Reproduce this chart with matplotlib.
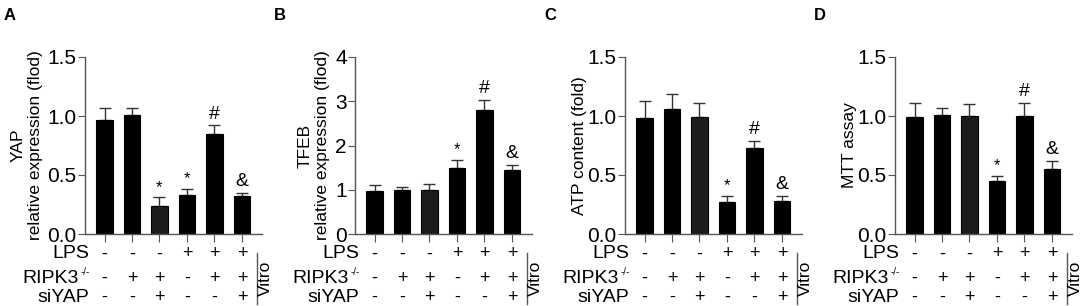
import matplotlib.pyplot as plt
import numpy as np

plt.rcParams['font.family'] = ['Liberation Sans', 'DejaVu Sans']

# values
yap = [0.97, 1.01, 0.24, 0.33, 0.85, 0.32]
yap_err = [0.10, 0.06, 0.07, 0.05, 0.07, 0.03]
tfeb = [0.98, 0.99, 1.00, 1.49, 2.81, 1.45]
tfeb_err = [0.13, 0.08, 0.12, 0.18, 0.22, 0.12]
atp = [0.98, 1.06, 0.99, 0.27, 0.73, 0.28]
atp_err = [0.15, 0.13, 0.12, 0.05, 0.06, 0.04]
mtt = [0.99, 1.01, 1.00, 0.45, 1.00, 0.55]
mtt_err = [0.12, 0.06, 0.10, 0.04, 0.11, 0.07]

sig_a = ['', '', '*', '*', '#', '&']
sig_b = ['', '', '', '*', '#', '&']
sig_c = ['', '', '', '*', '#', '&']
sig_d = ['', '', '', '*', '#', '&']

lps = ['-', '-', '-', '+', '+', '+']
ripk3 = ['-', '+', '+', '-', '+', '+']
siyap = ['-', '-', '+', '-', '-', '+']

letters = ['A', 'B', 'C', 'D']
ylabels = ['YAP\nrelative expression (flod)', 'TFEB\nrelative expression (flod)',
           'ATP content (fold)', 'MTT assay']
label_x = [-0.24, -0.14, -0.215, -0.215]
yticks = [[0, 0.5, 1.0, 1.5], [0, 1, 2, 3, 4], [0, 0.5, 1.0, 1.5], [0, 0.5, 1.0, 1.5]]
ytick_fmt = ['%.1f', '%d', '%.1f', '%.1f']

panels = [(yap, yap_err, sig_a), (tfeb, tfeb_err, sig_b),
          (atp, atp_err, sig_c), (mtt, mtt_err, sig_d)]

W, H = 1084, 306
fig = plt.figure(figsize=(W / 100, H / 100), dpi=100)

x = np.arange(6)
spine_col = '#555555'
for i, (vals, errs, sig) in enumerate(panels):
    left = 85 + 270 * i
    ax = fig.add_axes([left / W, (H - 234) / H, 177 / W, 177 / H])
    colors = ['black', 'black', '#1c1c1c', 'black', 'black', 'black']
    ax.bar(x, vals, width=0.6, color=colors, edgecolor='black', linewidth=0.8, zorder=2)
    ax.errorbar(x, vals, yerr=[np.zeros(6), errs], fmt='none', ecolor='#333333',
                elinewidth=1, capsize=4, capthick=1, zorder=1)
    for k in range(6):
        if sig[k]:
            fs = 12 if sig[k] == '*' else 14
            ax.annotate(sig[k], (x[k], vals[k] + errs[k]), xytext=(0, 2),
                        textcoords='offset points', ha='center', va='bottom', fontsize=fs)
    ax.set_xlim(-0.71, 5.73)
    ax.set_ylim(0, yticks[i][-1])
    ax.set_yticks(yticks[i])
    ax.set_yticklabels([ytick_fmt[i] % t for t in yticks[i]])
    ax.set_xticks(x)
    ax.set_xticklabels([])
    for s in ['top', 'right']:
        ax.spines[s].set_visible(False)
    for s in ['left', 'bottom']:
        ax.spines[s].set_color(spine_col)
        ax.spines[s].set_linewidth(1)
    ax.tick_params(axis='y', direction='out', length=5, color=spine_col, labelsize=15, pad=1)
    ax.tick_params(axis='x', direction='out', length=6, color=spine_col)
    ax.set_ylabel(ylabels[i], fontsize=12.5, linespacing=1.2)
    ax.yaxis.set_label_coords(label_x[i], 0.5)

    tr = ax.get_xaxis_transform()
    rows = [('LPS', lps, -0.112), ('RIPK3', ripk3, -0.25), ('siYAP', siyap, -0.36)]
    for name, signs, yy in rows:
        if name == 'RIPK3':
            ax.annotate('-/-', (-0.55, yy), xycoords=tr, xytext=(0, 1),
                        textcoords='offset points', ha='right', va='bottom', fontsize=7)
            ax.annotate(name, (-0.55, yy), xycoords=tr, xytext=(-8, 0),
                        textcoords='offset points', ha='right', va='center', fontsize=14)
        else:
            ax.text(-0.55, yy, name, transform=tr, ha='right', va='center', fontsize=14,
                    clip_on=False)
        for k in range(6):
            ax.text(x[k], yy, signs[k], transform=tr, ha='center', va='center',
                    fontsize=13, clip_on=False)
    ax.plot([5.54, 5.54], [-0.105, -0.395], transform=tr, color=spine_col, lw=1, clip_on=False)
    ax.text(5.84, -0.25, 'Vitro', transform=tr, rotation=90, ha='center', va='center',
            fontsize=12.5, clip_on=False)

    fig.text((4 + 270 * i) / W, 1 - 16 / H, letters[i], fontsize=12, fontweight='bold',
             ha='left', va='center')

fig.savefig('out.png', dpi=100)
